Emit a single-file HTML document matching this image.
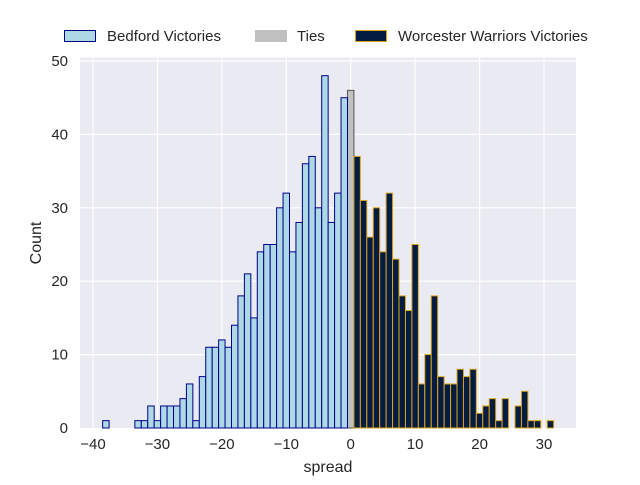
<!DOCTYPE html>
<html><head><meta charset="utf-8"><style>
body{margin:0;background:#fff;}
svg text{font-family:"Liberation Sans","DejaVu Sans",sans-serif;fill:#262626;}
</style></head><body>
<svg id="s" width="640" height="480" xmlns="http://www.w3.org/2000/svg">
<rect x="80" y="57.6" width="496" height="370.4" fill="#eaeaf2"/>
<g stroke="#fff" stroke-width="1.2">
<line x1="93" y1="57.6" x2="93" y2="428"/><line x1="157.4" y1="57.6" x2="157.4" y2="428"/>
<line x1="221.9" y1="57.6" x2="221.9" y2="428"/><line x1="286.3" y1="57.6" x2="286.3" y2="428"/>
<line x1="350.7" y1="57.6" x2="350.7" y2="428"/><line x1="415.1" y1="57.6" x2="415.1" y2="428"/>
<line x1="479.6" y1="57.6" x2="479.6" y2="428"/><line x1="544" y1="57.6" x2="544" y2="428"/>
<line x1="80" y1="354.6" x2="576" y2="354.6"/><line x1="80" y1="281.2" x2="576" y2="281.2"/>
<line x1="80" y1="207.8" x2="576" y2="207.8"/><line x1="80" y1="134.4" x2="576" y2="134.4"/>
<line x1="80" y1="61" x2="576" y2="61"/>
</g>
<g id="bars"></g>
<g font-size="15" text-anchor="middle">
<text x="93" y="449">−40</text><text x="157.4" y="449">−30</text><text x="221.9" y="449">−20</text>
<text x="286.3" y="449">−10</text><text x="350.7" y="449">0</text><text x="415.1" y="449">10</text>
<text x="479.6" y="449">20</text><text x="544" y="449">30</text>
</g>
<g font-size="15" text-anchor="end">
<text x="68" y="433">0</text><text x="68" y="359.6">10</text><text x="68" y="286.2">20</text>
<text x="68" y="212.8">30</text><text x="68" y="139.4">40</text><text x="68" y="66">50</text>
</g>
<text x="328" y="472" font-size="16" text-anchor="middle">spread</text>
<text x="41" y="243" font-size="16" text-anchor="middle" transform="rotate(-90 41 243)">Count</text>
<rect x="64.5" y="30.5" width="31" height="11" fill="#add8e6" stroke="#00008b" stroke-width="1"/>
<text x="107" y="41" font-size="15">Bedford Victories</text>
<rect x="255" y="30" width="32" height="12" fill="#c0c0c0"/>
<text x="297" y="41" font-size="15">Ties</text>
<rect x="355.5" y="30.5" width="31" height="11" fill="#041c40" stroke="#daa520" stroke-width="1"/>
<text x="398" y="41" font-size="15">Worcester Warriors Victories</text>
</svg>
<script>
var d={"-38":1,"-33":1,"-32":1,"-31":3,"-30":1,"-29":3,"-28":3,"-27":3,"-26":4,"-25":6,"-24":1,"-23":7,"-22":11,"-21":11,"-20":12,"-19":11,"-18":14,"-17":18,"-16":21,"-15":15,"-14":24,"-13":25,"-12":25,"-11":30,"-10":32,"-9":24,"-8":28,"-7":36,"-6":37,"-5":30,"-4":48,"-3":28,"-2":32,"-1":45,"0":46,
"1":37,"2":31,"3":26,"4":30,"5":24,"6":32,"7":23,"8":18,"9":16,"10":25,"11":6,"12":10,"13":18,"14":7,"15":6,"16":6,"17":8,"18":7,"19":8,"20":2,"21":3,"22":4,"23":1,"24":4,"26":3,"27":5,"28":1,"29":1,"31":1};
var g=document.getElementById("bars"),h="";
for(var k in d){var v=+k,c=d[k],x=347.48+v*6.443,y=428-c*7.34;
var f,s;if(v<0){f="#add8e6";s="#00008b";}else if(v==0){f="#c0c0c0";s="#555";}else{f="#041c40";s="#daa520";}
h+='<rect x="'+x.toFixed(2)+'" y="'+y.toFixed(2)+'" width="6.443" height="'+(c*7.34).toFixed(2)+'" fill="'+f+'" stroke="'+s+'" stroke-width="1"/>';}
g.innerHTML=h;
</script>
</body></html>
